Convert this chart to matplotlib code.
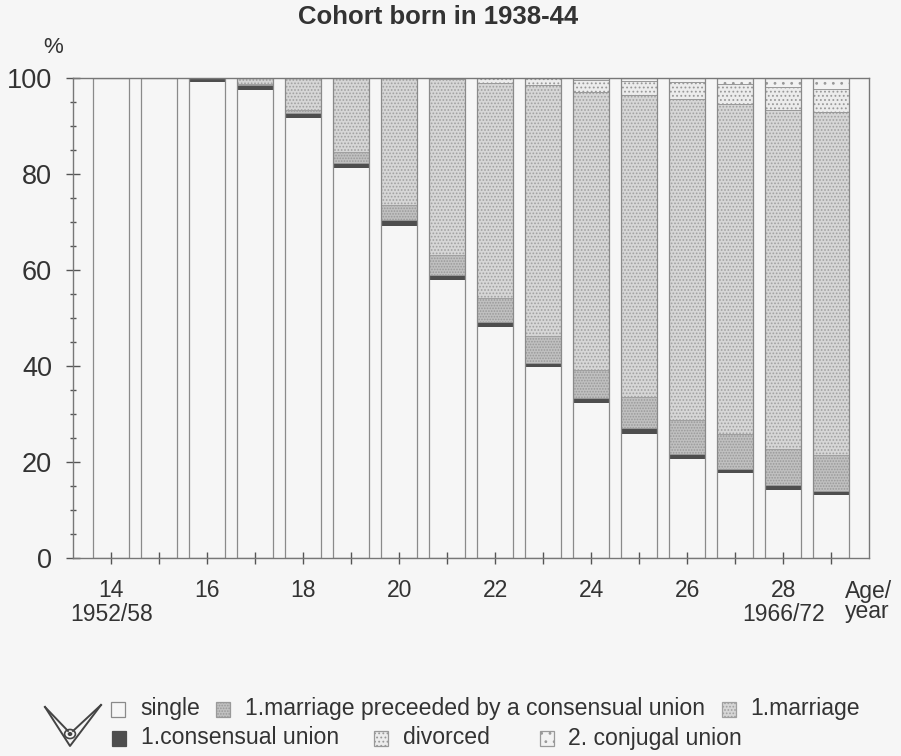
import matplotlib.pyplot as plt
from matplotlib.lines import Line2D
from matplotlib.patches import Rectangle, Circle

plt.rcParams['font.family'] = ['Liberation Sans', 'DejaVu Sans']
plt.rcParams['hatch.linewidth'] = 0.8

# shares (%) by age, cohort born 1938-44
ages = list(range(14, 30))
single = [100, 100, 99.3, 97.7, 91.9, 81.5, 69.3, 58.1, 48.3, 39.9, 32.4, 26.0, 20.8, 17.8, 14.3, 13.3]
cons_union = [0, 0, 0.7, 0.8, 0.8, 0.8, 1.0, 0.9, 0.9, 0.8, 1.0, 1.0, 0.8, 0.8, 0.9, 0.6]
marr_after_cu = [0, 0, 0, 0.3, 0.7, 2.3, 3.3, 4.0, 4.9, 5.6, 5.8, 6.6, 7.1, 7.3, 7.4, 7.6]
marriage = [0, 0, 0, 1.2, 6.6, 15.4, 26.4, 36.7, 44.9, 52.3, 57.9, 62.8, 66.8, 68.6, 70.7, 71.4]
divorced = [0, 0, 0, 0, 0, 0, 0, 0.3, 1.0, 1.4, 2.4, 2.9, 3.7, 4.2, 4.9, 4.7]
second_union = [0, 0, 0, 0, 0, 0, 0, 0, 0, 0, 0.5, 0.7, 0.8, 1.3, 1.8, 2.4]

BG = '#f6f6f6'
INK = '#333333'

# (values, label, face, hatch, edge) bottom to top
series = [
    (single, 'single', BG, None, '#8a8a8a'),
    (cons_union, '1.consensual union', '#4e4e4e', None, '#4e4e4e'),
    (marr_after_cu, '1.marriage preceeded by a consensual union', '#c0c0c0', '......', '#999999'),
    (marriage, '1.marriage', '#d6d6d6', '.....', '#a0a0a0'),
    (divorced, 'divorced', '#ececec', '....', '#999999'),
    (second_union, '2. conjugal union', '#f2f2f2', '..', '#999999'),
]
styles = {lab: (face, hatch, edge) for _, lab, face, hatch, edge in series}

fig = plt.figure(figsize=(9.01, 7.56), dpi=100, facecolor=BG)
ax = fig.add_axes([0.081, 0.262, 0.8835, 0.635], facecolor=BG)

bottom = [0] * len(ages)
for vals, label, face, hatch, edge in series:
    ax.bar(ages, vals, width=0.75, bottom=bottom, color=face, hatch=hatch,
           edgecolor=edge, linewidth=0.7)
    bottom = [b + v for b, v in zip(bottom, vals)]

# bar outlines
ax.bar(ages, [100] * len(ages), width=0.75, fill=False, edgecolor='#8a8a8a', linewidth=0.9)

ax.set_xlim(13.2, 29.79)
ax.set_ylim(0, 100)
for s in ax.spines.values():
    s.set_color('#777777')
    s.set_linewidth(1.0)

ax.set_yticks(range(0, 101, 20))
ax.set_yticks(range(0, 101, 5), minor=True)
ax.tick_params(axis='y', which='major', direction='inout', length=10, width=1,
               colors='#555555', labelcolor=INK, labelsize=19.5, pad=10)
ax.tick_params(axis='y', which='minor', direction='inout', length=5, width=1, colors='#555555')

xlabels = []
for a in ages:
    if a == 14:
        xlabels.append('14\n1952/58')
    elif a == 28:
        xlabels.append('28\n1966/72')
    elif a % 2 == 0:
        xlabels.append(str(a))
    else:
        xlabels.append('')
ax.set_xticks(ages)
ax.set_xticklabels(xlabels, linespacing=1.05)
ax.tick_params(axis='x', direction='inout', length=9, width=1, colors='#555555',
               labelcolor=INK, labelsize=16.5, pad=11)

ax.text(0.97, -0.045, 'Age/\nyear', transform=ax.transAxes, ha='left', va='top',
        fontsize=16.5, color=INK, linespacing=0.85)
ax.text(-0.025, 1.0625, '%', transform=ax.transAxes, ha='center', va='center',
        fontsize=16, color=INK)

fig.text(0.486, 0.978, 'Cohort born in 1938-44', ha='center', va='center',
         fontsize=18.5, fontweight='bold', color=INK)

# legend, two rows, drawn by hand (box x, text x, row y in pixels)
W, H = 901, 756
def px(x, y):
    return x / W, 1 - y / H

legend_items = [
    ('single', 111, 140, 709),
    ('1.marriage preceeded by a consensual union', 216, 245, 709),
    ('1.marriage', 722, 750, 709),
    ('1.consensual union', 112, 141, 738),
    ('divorced', 374, 403, 738),
    ('2. conjugal union', 540, 568, 738),
]
for lab, bx, tx, yc in legend_items:
    face, hatch, edge = styles[lab]
    x0, y0 = px(bx, yc + 7.5)
    fig.add_artist(Rectangle((x0, y0), 14 / W, 15 / H, transform=fig.transFigure,
                             facecolor=face, hatch=hatch, edgecolor=edge,
                             linewidth=0.9))
    tx0, ty0 = px(tx, yc)
    fig.text(tx0, ty0, lab, ha='left', va='center', fontsize=16.6, color=INK)

# publisher emblem
for pts in [[(45, 707), (70, 746), (101, 705)],
            [(45, 707), (68, 731)],
            [(101, 705), (73, 731)]]:
    xs, ys = zip(*[px(*p) for p in pts])
    fig.add_artist(Line2D(xs, ys, color='#444444', linewidth=1.4))
cx, cy = px(70, 734)
fig.add_artist(Circle((cx, cy), 0.006, transform=fig.transFigure, fill=False,
                      edgecolor='#444444', linewidth=1.2))
fig.add_artist(Circle((cx, cy), 0.0018, transform=fig.transFigure,
                      color='#444444'))

fig.savefig('out.png', dpi=100, facecolor=BG)
